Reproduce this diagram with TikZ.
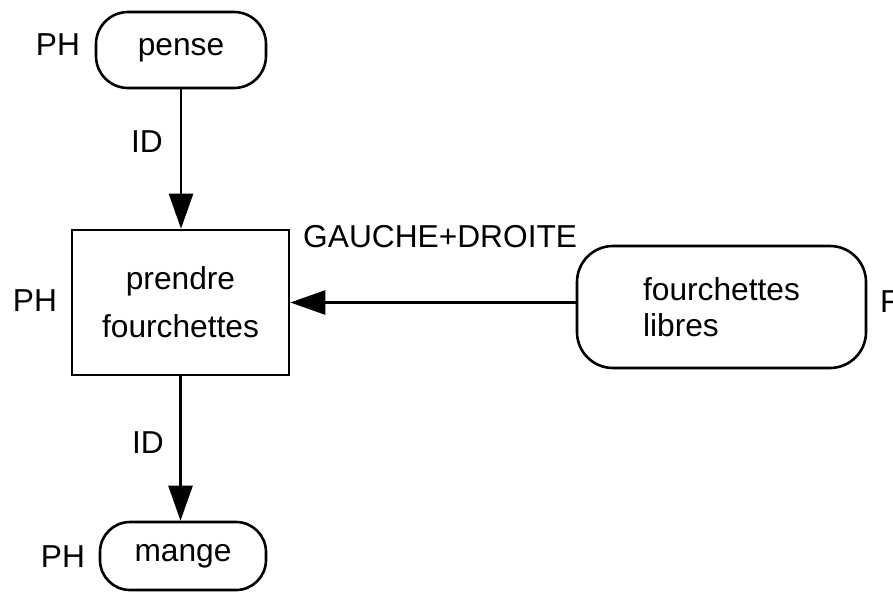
\documentclass[tikz,border=0pt]{standalone}
\usepackage{fontspec}
\setmainfont{Liberation Sans}
\usetikzlibrary{arrows.meta}
\begin{document}
\begin{tikzpicture}[x=1pt,y=-1pt,
  every node/.style={font=\fontsize{31.7}{38}\selectfont},
  pill/.style={draw, line width=2.6pt, minimum width=#1, inner sep=0pt},
  box/.style={draw, line width=2.6pt, inner sep=0pt},
  lbl/.style={inner sep=0pt},
  arr/.style={line width=2.6pt, -{Triangle[length=35pt,width=24pt]}}]
\useasboundingbox (0,0) rectangle (893,592);
\node[pill=170pt, minimum height=76pt, rounded corners=32pt] (pense) at (181,50) {pense};
\node[box, minimum width=217pt, minimum height=145pt, align=center,
  font=\fontsize{31.7}{48}\selectfont] (prendre) at (180.5,302.5) {prendre\\fourchettes};
\node[pill=289pt, minimum height=122pt, rounded corners=36pt, align=left,
  font=\fontsize{31.7}{36}\selectfont] (libres) at (721.5,307) {fourchettes\\libres};
\node[pill=166pt, minimum height=68pt, rounded corners=30pt] (mange) at (183,556) {mange};
\node[lbl] (ph1) at (58,45) {PH};
\node[lbl] (ph2) at (35,301) {PH};
\node[lbl] (ph3) at (63,557) {PH};
\node[lbl, anchor=west] (f) at (880,302) {F};
\node[lbl] (id1) at (147,142) {ID};
\node[lbl] (id2) at (148,443) {ID};
\node[lbl, anchor=west] (gd) at (303,237) {GAUCHE+DROITE};
\draw[arr] (pense.south) -- (pense.south |- prendre.north);
\draw[arr] (libres.west |- prendre.east) -- (prendre.east);
\draw[arr] (prendre.south) -- (prendre.south |- mange.north);
\end{tikzpicture}
\end{document}
